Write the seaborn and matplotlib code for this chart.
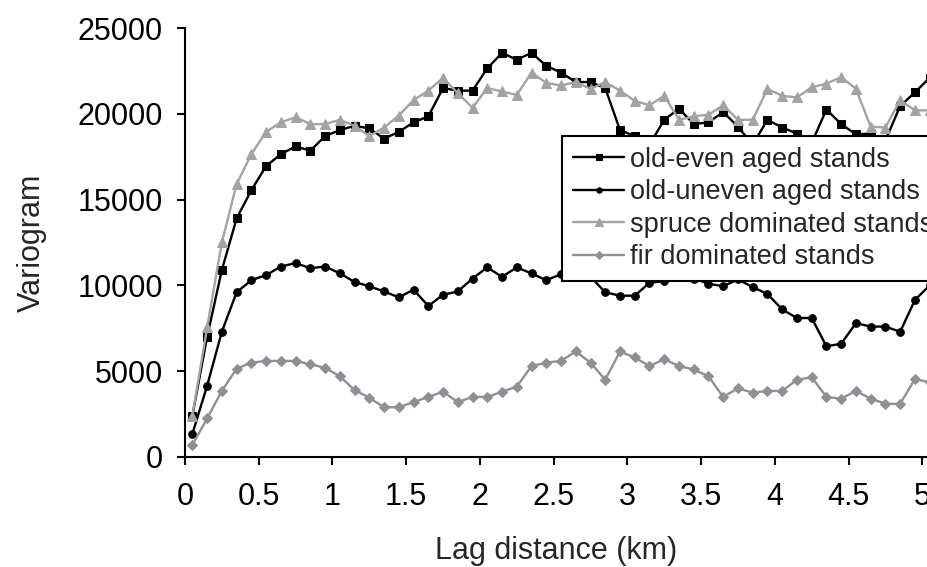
import numpy as np
import pandas as pd
import seaborn as sns
import matplotlib.pyplot as plt

# lag distances (km), one every 0.1 km
lag = [0.05, 0.15, 0.25, 0.35, 0.45, 0.55, 0.65, 0.75, 0.85, 0.95,
       1.05, 1.15, 1.25, 1.35, 1.45, 1.55, 1.65, 1.75, 1.85, 1.95,
       2.05, 2.15, 2.25, 2.35, 2.45, 2.55, 2.65, 2.75, 2.85, 2.95,
       3.05, 3.15, 3.25, 3.35, 3.45, 3.55, 3.65, 3.75, 3.85, 3.95,
       4.05, 4.15, 4.25, 4.35, 4.45, 4.55, 4.65, 4.75, 4.85, 4.95, 5.05]

old_even = [2400, 7000, 10900, 13900, 15550, 16950, 17650, 18100, 17850, 18700,
            19050, 19300, 19150, 18550, 18950, 19500, 19850, 21500, 21350, 21350,
            22650, 23550, 23150, 23550, 22800, 22400, 21850, 21850, 21500, 19050,
            18700, 18200, 19650, 20300, 19400, 19500, 20100, 19250, 18200, 19650,
            19200, 18850, 18300, 20250, 19400, 18800, 18850, 18450, 20450, 21250, 22100]

old_uneven = [1350, 4150, 7300, 9600, 10300, 10600, 11100, 11300, 11000, 11100,
              10700, 10200, 9950, 9650, 9300, 9750, 8800, 9450, 9650, 10400,
              11050, 10500, 11050, 10700, 10300, 10650, 10900, 10500, 9600, 9400,
              9400, 10150, 10250, 10500, 10400, 10100, 9950, 10350, 9900, 9500,
              8600, 8100, 8100, 6450, 6600, 7800, 7600, 7600, 7300, 9150, 10000]

spruce = [2400, 7550, 12500, 15900, 17650, 18950, 19500, 19800, 19400, 19400,
          19650, 19300, 18700, 19200, 19900, 20800, 21350, 22100, 21200, 20350,
          21500, 21300, 21100, 22400, 21800, 21650, 21850, 21450, 21850, 21350,
          20750, 20500, 21050, 19650, 19850, 19950, 20500, 19650, 19650, 21450,
          21050, 20950, 21550, 21750, 22150, 21450, 19250, 19200, 20800, 20200, 20200]

fir = [700, 2250, 3850, 5150, 5500, 5600, 5600, 5600, 5400, 5200,
       4700, 3900, 3450, 2900, 2900, 3200, 3500, 3800, 3200, 3500,
       3500, 3800, 4100, 5300, 5500, 5600, 6150, 5500, 4500, 6150,
       5800, 5300, 5700, 5300, 5100, 4700, 3500, 4000, 3750, 3850,
       3850, 4500, 4650, 3500, 3400, 3850, 3400, 3100, 3100, 4550, 4350]

labels = ["old-even aged stands", "old-uneven aged stands",
          "spruce dominated stands", "fir dominated stands"]
xticks = [0, 0.5, 1, 1.5, 2, 2.5, 3, 3.5, 4, 4.5, 5]
xticklabels = ["0", "0.5", "1", "1.5", "2", "2.5", "3", "3.5", "4", "4.5", "5"]
yticks = [0, 5000, 10000, 15000, 20000, 25000]

sns.set_style("ticks")
plt.rcParams["font.family"] = ["Liberation Sans", "DejaVu Sans"]

fig = plt.figure(figsize=(9.27, 5.67), dpi=100)
ax = fig.add_axes([185 / 927, 110 / 567, 742 / 927, 429 / 567])

series = [old_even, old_uneven, spruce, fir]
colors = ["black", "black", "#a3a3a3", "#8e9096"]
markers = ["s", "o", "^", "D"]
msizes = [6, 5.5, 7.5, 5.5]

for vals, lab, col, mk, ms in zip(series, labels, colors, markers, msizes):
    sns.lineplot(x=lag, y=vals, ax=ax, color=col, marker=mk, markersize=ms,
                 markeredgecolor=col, linewidth=1.7, label=lab)

ax.set_xlim(0, 5.032)
ax.set_ylim(0, 25000)
ax.set_xticks(xticks)
ax.set_xticklabels(xticklabels)
ax.set_yticks(yticks)

for s in ["top", "right"]:
    ax.spines[s].set_visible(False)
for s in ["left", "bottom"]:
    ax.spines[s].set_color("black")
    ax.spines[s].set_linewidth(1.5)

ax.tick_params(axis="both", direction="out", length=6, width=1.5,
               colors="black", labelsize=22)
ax.tick_params(axis="y", pad=10)
ax.tick_params(axis="x", pad=12)

ax.set_xlabel("Lag distance (km)", fontsize=22, labelpad=17)
ax.set_ylabel("Variogram", fontsize=22, labelpad=22)

leg = ax.legend(loc="upper left", bbox_to_anchor=(562 / 927, 1 - 136 / 567),
                bbox_transform=fig.transFigure, borderaxespad=0,
                fontsize=19.5, frameon=True, fancybox=False, framealpha=1,
                edgecolor="black", handlelength=1.9, handletextpad=0.2,
                labelspacing=0.24, borderpad=0.4, markerscale=0.7)
leg.get_frame().set_linewidth(1.5)

fig.savefig("out.png", dpi=100)
